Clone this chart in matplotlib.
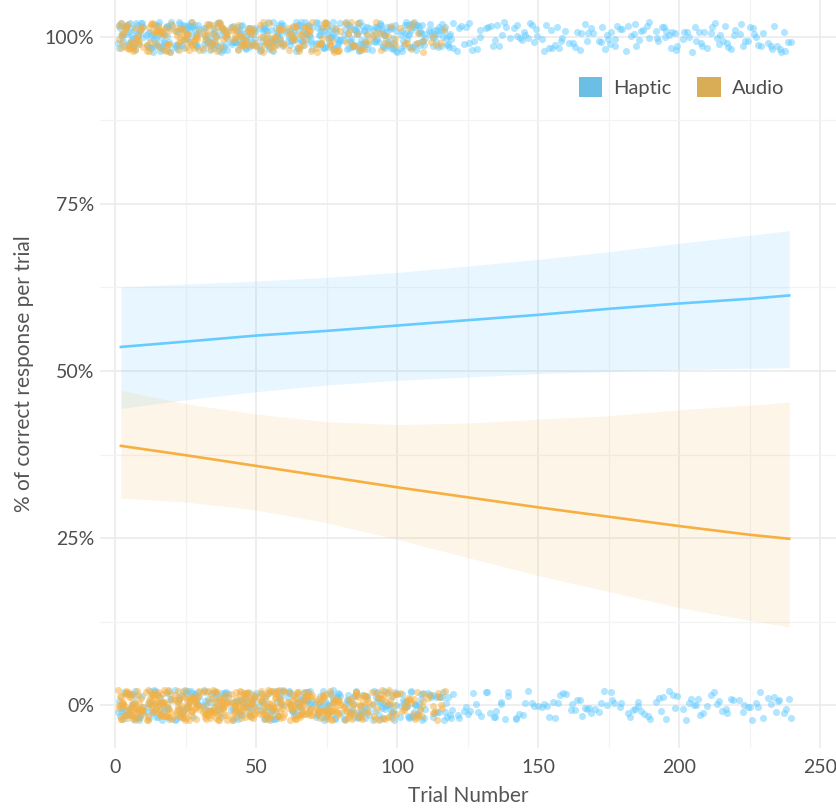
import numpy as np
import matplotlib.pyplot as plt
from matplotlib.patches import Patch
from matplotlib.ticker import FuncFormatter, MultipleLocator

plt.rcParams['font.family'] = ['Lato', 'DejaVu Sans']

# trial bins (10 trials each) and how many responses fall in each bin
bin_edges = list(range(0, 250, 10))
haptic_correct = [40, 41, 39, 42, 40, 41, 40, 39, 41, 40, 38, 28,
                  12, 11, 13, 12, 11, 13, 12, 13, 12, 13, 12, 11]
haptic_wrong = [31, 30, 32, 29, 31, 30, 31, 32, 30, 31, 30, 22,
                10, 11, 9, 10, 11, 9, 10, 9, 10, 9, 10, 10]
audio_correct = [30, 29, 29, 28, 27, 26, 25, 21, 16, 12, 10, 5]
audio_wrong = [50, 51, 50, 51, 50, 49, 48, 43, 35, 28, 21, 11]
audio_last_trial = 117

# fitted logistic curves with 95% bands
fit_x = [2, 25, 50, 75, 100, 125, 150, 175, 200, 225, 239]
haptic_fit = [53.6, 54.4, 55.3, 56.0, 56.8, 57.6, 58.4, 59.3, 60.1, 60.8, 61.3]
haptic_lo = [44.4, 45.7, 46.9, 47.9, 48.6, 49.1, 49.6, 49.9, 50.2, 50.4, 50.5]
haptic_hi = [62.6, 63.0, 63.45, 64.0, 64.75, 65.7, 66.7, 67.85, 69.1, 70.3, 71.0]
audio_fit = [38.8, 37.4, 35.8, 34.2, 32.6, 31.1, 29.6, 28.2, 26.8, 25.5, 24.9]
audio_lo = [31.0, 30.4, 29.2, 27.3, 24.8, 22.1, 19.4, 17.0, 14.6, 12.7, 11.7]
audio_hi = [47.1, 45.1, 43.55, 42.4, 42.0, 42.2, 42.8, 43.3, 44.2, 44.9, 45.35]

haptic_col = '#66CCFF'
audio_col = '#F5B041'


def hash01(i):
    # fixed pseudo-jitter, same every run
    v = np.sin(i * 12.9898 + 78.233) * 43758.5453
    return v - np.floor(v)


def jittered(counts, outcome, last=None, seed=0):
    # stratified jitter: one slot per response across the bin's trials
    xs, ys = [], []
    idx = seed * 10000
    for i, n in enumerate(counts):
        lo = bin_edges[i]
        hi = bin_edges[i + 1]
        if last is not None:
            hi = min(hi, last)
        width = hi - lo - 1
        for k in range(n):
            idx += 1
            xs.append(lo + 1 + (k + hash01(idx)) / n * width)
            ys.append(outcome + (hash01(idx * 1.37 + 5000.5) - 0.5) * 0.045)
    return xs, ys


fig = plt.figure(figsize=(8.36, 8.09), dpi=100)
ax = fig.add_axes([100 / 836, 61 / 809, 736 / 836, 748 / 809])

# points
for counts, outc, s in [(haptic_correct, 1, 1), (haptic_wrong, 0, 2)]:
    x, y = jittered(counts, outc, seed=s)
    ax.scatter(x, y, s=26, color=haptic_col, alpha=0.5, linewidths=0, zorder=2)
for counts, outc, s in [(audio_correct, 1, 3), (audio_wrong, 0, 4)]:
    x, y = jittered(counts, outc, last=audio_last_trial, seed=s)
    ax.scatter(x, y, s=26, color=audio_col, alpha=0.5, linewidths=0, zorder=2)

# bands + fitted lines
fx = np.array(fit_x)
ax.fill_between(fx, np.array(haptic_lo) / 100, np.array(haptic_hi) / 100,
                color=haptic_col, alpha=0.15, linewidth=0, zorder=3)
ax.fill_between(fx, np.array(audio_lo) / 100, np.array(audio_hi) / 100,
                color=audio_col, alpha=0.12, linewidth=0, zorder=3)
ax.plot(fx, np.array(haptic_fit) / 100, color=haptic_col, lw=1.9, zorder=4)
ax.plot(fx, np.array(audio_fit) / 100, color=audio_col, lw=1.9, zorder=4)

ax.set_xlim(-5.4, 255.6)
ax.set_ylim(-0.064, 1.055)
ax.xaxis.set_major_locator(MultipleLocator(50))
ax.xaxis.set_minor_locator(MultipleLocator(25))
ax.yaxis.set_major_locator(MultipleLocator(0.25))
ax.yaxis.set_minor_locator(MultipleLocator(0.125))
ax.yaxis.set_major_formatter(FuncFormatter(lambda v, p: f'{v * 100:.0f}%'))

ax.grid(which='major', color='#EBEBEB', lw=1.2)
ax.grid(which='minor', color='#F3F3F3', lw=0.9)
ax.set_axisbelow(True)
for sp in ax.spines.values():
    sp.set_visible(False)
ax.tick_params(which='both', length=0, colors='#4D4D4D', labelsize=14)
ax.tick_params(axis='x', pad=8)
ax.tick_params(axis='y', pad=4)

ax.set_xlabel('Trial Number', fontsize=15, color='#555555', labelpad=7)
ax.set_ylabel('% of correct response per trial', fontsize=15,
              color='#555555', labelpad=8)

handles = [Patch(facecolor='#6CBFE4', edgecolor='none', label='Haptic'),
           Patch(facecolor='#D9AC56', edgecolor='none', label='Audio')]
ax.legend(handles=handles, loc='center right', bbox_to_anchor=(0.943, 0.884),
          ncol=2, frameon=False, handlelength=1.15, handleheight=1.15,
          handletextpad=0.55, columnspacing=1.3, borderpad=0,
          labelcolor='#4D4D4D', prop={'size': 14.5})

fig.savefig('out.png', dpi=100)
